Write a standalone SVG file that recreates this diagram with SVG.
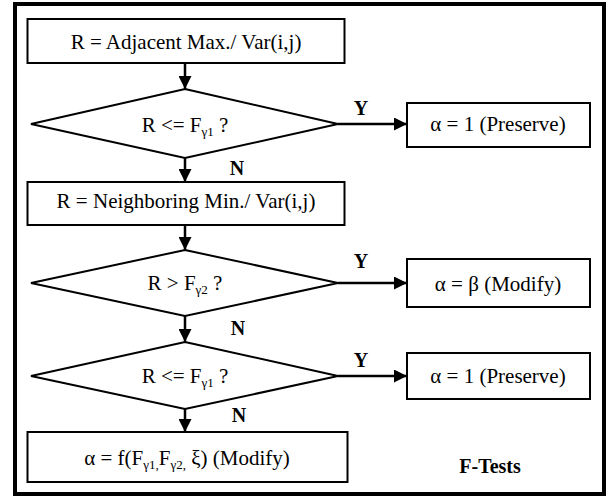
<svg xmlns="http://www.w3.org/2000/svg" width="609" height="498" viewBox="0 0 609 498">
<defs>
<marker id="ah" markerWidth="13" markerHeight="13" refX="13" refY="6.5" orient="auto" markerUnits="userSpaceOnUse">
<path d="M0,0 L13,6.5 L0,13 Z" fill="#000"/>
</marker>
<style>
.box{fill:#fff;stroke:#000;stroke-width:2}
.t{font-family:"Liberation Serif","Times New Roman",serif;font-size:21px;fill:#000;text-anchor:middle}
.s{font-size:13px}
.lb{font-family:"Liberation Serif","Times New Roman",serif;font-size:20px;font-weight:bold;fill:#000;text-anchor:middle}
.c{stroke:#000;stroke-width:2.5;fill:none;marker-end:url(#ah)}
</style>
</defs>
<rect x="15" y="4" width="589" height="490" fill="#fff" stroke="#000" stroke-width="4"/>
<g id="connectors">
<line class="c" x1="185" y1="63" x2="185" y2="89"/>
<line class="c" x1="338" y1="124" x2="407" y2="124"/>
<line class="c" x1="185" y1="158" x2="185" y2="182"/>
<line class="c" x1="185" y1="225" x2="185" y2="250"/>
<line class="c" x1="338" y1="283" x2="407" y2="283"/>
<line class="c" x1="185" y1="316" x2="185" y2="342"/>
<line class="c" x1="338" y1="376" x2="407" y2="376"/>
<line class="c" x1="185" y1="409" x2="185" y2="432"/>
<text class="lb" x="361" y="115">Y</text>
<text class="lb" x="237" y="175">N</text>
<text class="lb" x="361" y="268">Y</text>
<text class="lb" x="238" y="335">N</text>
<text class="lb" x="361" y="367">Y</text>
<text class="lb" x="239" y="422">N</text>
</g>
<g id="box1">
<rect class="box" x="27.5" y="19" width="317" height="44"/>
<text class="t" x="186" y="49">R = Adjacent Max./ Var(i,j)</text>
</g>
<g id="dec1">
<polygon class="box" points="185,89 338,124 185,158 31,124"/>
<text class="t" x="185" y="132">R &lt;= F<tspan class="s" dy="4">γ1</tspan><tspan dy="-4"> ?</tspan></text>
</g>
<g id="preserve1">
<rect class="box" x="407" y="103" width="183" height="44"/>
<text class="t" x="498" y="131">α = 1 (Preserve)</text>
</g>
<g id="box2">
<rect class="box" x="27.5" y="182" width="317" height="43"/>
<text class="t" x="186" y="208">R = Neighboring Min./ Var(i,j)</text>
</g>
<g id="dec2">
<polygon class="box" points="185,250 338,283 185,316 31,283"/>
<text class="t" x="185" y="290">R &gt; F<tspan class="s" dy="4">γ2</tspan><tspan dy="-4"> ?</tspan></text>
</g>
<g id="modify1">
<rect class="box" x="407" y="259" width="183" height="48"/>
<text class="t" x="498" y="291">α = β (Modify)</text>
</g>
<g id="dec3">
<polygon class="box" points="185,342 338,376 185,409 31,376"/>
<text class="t" x="185" y="383">R &lt;= F<tspan class="s" dy="4">γ1</tspan><tspan dy="-4"> ?</tspan></text>
</g>
<g id="preserve2">
<rect class="box" x="407" y="353" width="183" height="46"/>
<text class="t" x="498" y="383">α = 1 (Preserve)</text>
</g>
<g id="modify2">
<rect class="box" x="27.5" y="432" width="320" height="50"/>
<text class="t" x="187" y="465">α = f(F<tspan class="s" dy="4">γ1,</tspan><tspan dy="-4">F</tspan><tspan class="s" dy="4">γ2,</tspan><tspan dy="-4"> ξ) (Modify)</tspan></text>
</g>
<g id="label">
<text class="lb" x="490" y="473">F-Tests</text>
</g>
</svg>
